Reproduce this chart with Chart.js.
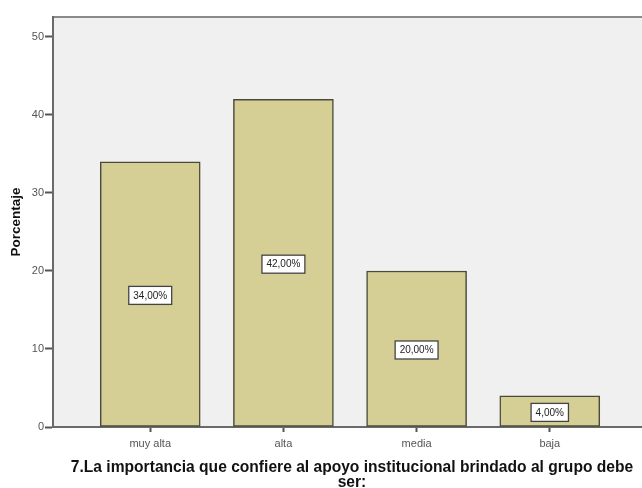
<!DOCTYPE html>
<html>
<head>
<meta charset="utf-8">
<script src="https://cdn.jsdelivr.net/npm/chart.js@4.4.0/dist/chart.umd.min.js"></script>
<style>
  html, body { margin: 0; padding: 0; background: #fff; overflow: hidden; }
  #wrap { width: 660px; height: 488px; }
</style>
</head>
<body>
<div id="wrap"><canvas id="c" width="660" height="488"></canvas></div>
<script>
/* data */
const categories = ["muy alta", "alta", "media", "baja"];
const percentages = [34, 42, 20, 4];
const yTicks = [0, 10, 20, 30, 40, 50];
const xTitle = ["7.La importancia que confiere al apoyo institucional brindado al grupo debe", "ser:"];
const yTitle = "Porcentaje";

const FONT = "'Liberation Sans', Arial, sans-serif";

/* background of the plot + top frame line */
const plotBg = {
    id: "plotBg",
    beforeDraw(chart) {
        const a = chart.chartArea, ctx = chart.ctx;
        ctx.save();
        ctx.fillStyle = "#f0f0f0";
        ctx.fillRect(a.left, a.top, a.right - a.left, a.bottom - a.top);
        ctx.strokeStyle = "#8a8a8a";
        ctx.lineWidth = 2;
        ctx.beginPath();
        ctx.moveTo(a.left, a.top);
        ctx.lineTo(a.right, a.top);
        ctx.stroke();
        ctx.restore();
    }
};

/* percentage boxes in the middle of each bar */
const barLabels = {
    id: "barLabels",
    afterDatasetsDraw(chart) {
        const ctx = chart.ctx;
        const meta = chart.getDatasetMeta(0);
        const y = chart.scales.y;
        ctx.save();
        ctx.font = "10px " + FONT;
        ctx.textAlign = "center";
        ctx.textBaseline = "middle";
        meta.data.forEach((bar, i) => {
            const txt = percentages[i].toFixed(2).replace(".", ",") + "%";
            const cy = y.getPixelForValue(percentages[i] / 2) + 1;
            const w = ctx.measureText(txt).width + 9;
            const h = 18;
            ctx.fillStyle = "#ffffff";
            ctx.fillRect(bar.x - w / 2, cy - h / 2, w, h);
            ctx.strokeStyle = "#444";
            ctx.lineWidth = 1.3;
            ctx.strokeRect(bar.x - w / 2, cy - h / 2, w, h);
            ctx.fillStyle = "#222";
            ctx.fillText(txt, bar.x, cy + 0.5);
        });
        ctx.restore();
    }
};

new Chart(document.getElementById("c"), {
    type: "bar",
    data: {
        datasets: [{
            data: categories.map((c, i) => ({ x: i, y: percentages[i] })),
            backgroundColor: "#d5cf95",
            borderColor: "#4a4a3a",
            borderWidth: 1.5,
            borderSkipped: false,
            barThickness: 100
        }]
    },
    options: {
        responsive: false,
        animation: false,
        layout: { padding: { top: 17, right: 9, left: 0, bottom: 0 } },
        plugins: { legend: { display: false }, tooltip: { enabled: false } },
        scales: {
            x: {
                type: "linear",
                offset: false,
                min: -0.73,
                max: 3.76,
                afterBuildTicks(scale) {
                    scale.ticks = categories.map((c, i) => ({ value: i }));
                },
                afterFit(scale) { scale.height = 61; },
                ticks: {
                    callback: (v) => categories[v],
                    color: "#555",
                    font: { family: FONT, size: 11 },
                    padding: 5,
                    maxRotation: 0
                },
                grid: { offset: false, drawOnChartArea: false, drawTicks: true, tickLength: 5, tickColor: "#555", tickWidth: 2 },
                border: { color: "#6a6a6a", width: 2 },
                title: {
                    display: true,
                    text: xTitle,
                    color: "#111",
                    font: { family: FONT, size: 15.6, weight: "bold", lineHeight: 0.97 },
                    padding: { top: 0, bottom: -2 }
                }
            },
            y: {
                min: 0,
                max: 52.56,
                afterBuildTicks(scale) {
                    scale.ticks = yTicks.map(v => ({ value: v }));
                },
                afterFit(scale) { scale.width = 53; },
                ticks: {
                    color: "#555",
                    font: { family: FONT, size: 11 },
                    padding: 1
                },
                grid: { drawOnChartArea: false, drawTicks: true, tickLength: 8, tickColor: "#555", tickWidth: 2 },
                border: { color: "#6a6a6a", width: 2 },
                title: {
                    display: true,
                    text: yTitle,
                    color: "#111",
                    font: { family: FONT, size: 13.5, weight: "bold" },
                    padding: { top: 8, bottom: 0 }
                }
            }
        }
    },
    plugins: [plotBg, barLabels]
});
</script>
</body>
</html>
